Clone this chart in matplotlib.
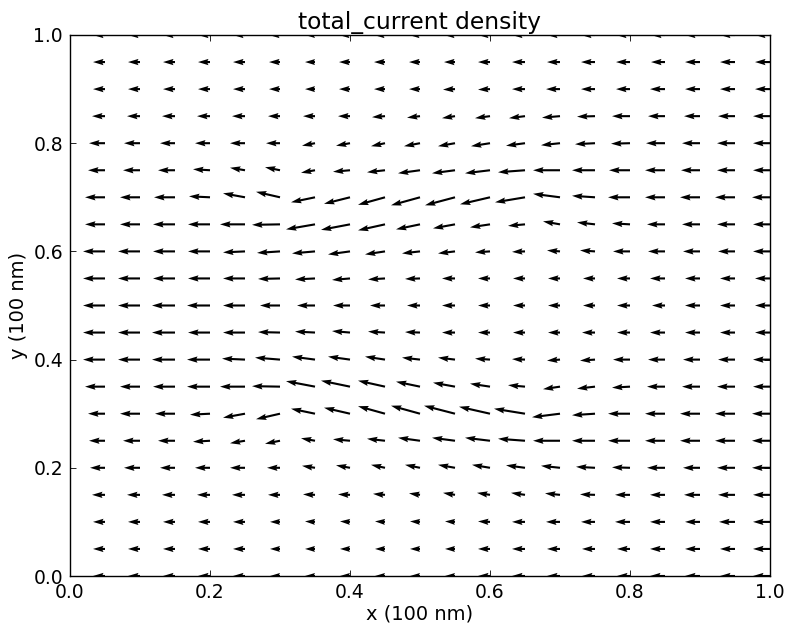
import numpy as np
import matplotlib
matplotlib.use("Agg")
import matplotlib.pyplot as plt

# grid of sample points (100 nm units)
x_pts = [0.0, 0.05, 0.1, 0.15, 0.2, 0.25, 0.3, 0.35, 0.4, 0.45, 0.5,
         0.55, 0.6, 0.65, 0.7, 0.75, 0.8, 0.85, 0.9, 0.95, 1.0]
y_pts = [0.0, 0.05, 0.1, 0.15, 0.2, 0.25, 0.3, 0.35, 0.4, 0.45, 0.5,
         0.55, 0.6, 0.65, 0.7, 0.75, 0.8, 0.85, 0.9, 0.95, 1.0]

# current density components, one row per y value (bottom -> top)
U = [
    [-1.2, -1.2, -1.2, -1.2, -1.2, -1.2, -1.0, -1.0, -1.0, -1.0, -1.0, -1.0, -1.2, -1.3, -1.3, -1.3, -1.3, -1.5, -1.5, -1.5, -1.7],  # 0.00
    [-1.2, -1.2, -1.2, -1.2, -1.2, -1.2, -1.0, -1.0, -1.0, -1.0, -1.0, -1.0, -1.2, -1.3, -1.3, -1.3, -1.3, -1.5, -1.5, -1.5, -1.7],  # 0.05
    [-1.2, -1.2, -1.2, -1.2, -1.2, -1.2, -1.0, -1.0, -1.0, -1.0, -1.0, -1.0, -1.2, -1.3, -1.4, -1.4, -1.5, -1.5, -1.5, -1.6, -1.7],  # 0.10
    [-1.3, -1.3, -1.3, -1.3, -1.3, -1.3, -1.2, -1.2, -1.2, -1.2, -1.1, -1.2, -1.3, -1.4, -1.5, -1.5, -1.5, -1.5, -1.6, -1.7, -1.7],  # 0.15
    [-1.5, -1.5, -1.6, -1.5, -1.5, -1.5, -1.3, -1.3, -1.4, -1.4, -1.5, -1.7, -1.8, -1.9, -1.9, -1.9, -1.8, -1.8, -1.7, -1.8, -1.8],  # 0.20
    [-1.6, -1.6, -1.7, -1.7, -1.7, -1.5, -1.5, -1.4, -1.7, -1.8, -2.2, -2.3, -2.5, -2.7, -2.7, -2.3, -2.2, -2.0, -2.0, -2.0, -1.8],  # 0.25
    [-1.7, -1.7, -2.0, -2.0, -2.0, -2.2, -2.4, -2.4, -2.6, -2.7, -2.9, -3.1, -3.1, -3.1, -2.8, -2.3, -2.2, -2.0, -2.0, -2.0, -1.8],  # 0.30
    [-2.0, -2.0, -2.0, -2.2, -2.3, -2.5, -2.8, -2.9, -2.9, -2.7, -2.4, -2.2, -2.0, -1.7, -1.7, -1.8, -1.8, -1.8, -1.8, -1.8, -1.7],  # 0.35
    [-2.2, -2.2, -2.2, -2.3, -2.3, -2.3, -2.5, -2.3, -2.2, -2.0, -1.8, -1.7, -1.5, -1.3, -1.3, -1.5, -1.7, -1.7, -1.7, -1.7, -1.7],  # 0.40
    [-2.2, -2.2, -2.2, -2.3, -2.2, -2.2, -2.2, -2.0, -1.8, -1.7, -1.5, -1.3, -1.2, -1.2, -1.2, -1.3, -1.3, -1.5, -1.5, -1.5, -1.5],  # 0.45
    [-2.2, -2.2, -2.2, -2.3, -2.3, -2.2, -2.0, -1.8, -1.7, -1.5, -1.3, -1.3, -1.2, -1.2, -1.2, -1.2, -1.3, -1.3, -1.5, -1.5, -1.5],  # 0.50
    [-2.2, -2.2, -2.2, -2.2, -2.2, -2.2, -2.2, -2.0, -1.8, -1.7, -1.5, -1.3, -1.2, -1.2, -1.2, -1.2, -1.3, -1.5, -1.5, -1.5, -1.5],  # 0.55
    [-2.2, -2.2, -2.2, -2.2, -2.2, -2.2, -2.3, -2.3, -2.2, -2.0, -1.8, -1.7, -1.5, -1.3, -1.3, -1.5, -1.7, -1.7, -1.7, -1.7, -1.7],  # 0.60
    [-2.0, -2.0, -2.0, -2.2, -2.2, -2.5, -2.8, -2.9, -2.9, -2.7, -2.4, -2.2, -2.0, -1.7, -1.7, -1.8, -1.8, -1.8, -1.8, -1.8, -1.7],  # 0.65
    [-2.0, -2.0, -2.0, -2.1, -2.1, -2.2, -2.4, -2.4, -2.6, -2.7, -2.9, -3.0, -3.0, -3.0, -2.7, -2.3, -2.2, -2.0, -2.0, -2.0, -1.8],  # 0.70
    [-1.7, -1.7, -1.7, -1.7, -1.7, -1.5, -1.5, -1.4, -1.7, -1.8, -2.2, -2.3, -2.5, -2.7, -2.7, -2.3, -2.1, -2.0, -1.9, -1.8, -1.7],  # 0.75
    [-1.6, -1.6, -1.6, -1.5, -1.5, -1.5, -1.4, -1.3, -1.4, -1.4, -1.6, -1.7, -1.9, -1.9, -1.9, -2.0, -1.9, -1.9, -1.8, -1.8, -1.7],  # 0.80
    [-1.3, -1.3, -1.3, -1.3, -1.3, -1.3, -1.2, -1.2, -1.2, -1.3, -1.3, -1.3, -1.5, -1.6, -1.8, -1.8, -1.8, -1.7, -1.6, -1.7, -1.7],  # 0.85
    [-1.2, -1.2, -1.2, -1.2, -1.2, -1.2, -1.1, -1.0, -1.1, -1.1, -1.1, -1.2, -1.2, -1.3, -1.4, -1.4, -1.4, -1.5, -1.5, -1.5, -1.5],  # 0.90
    [-1.2, -1.2, -1.2, -1.2, -1.2, -1.2, -1.1, -1.0, -1.1, -1.1, -1.1, -1.1, -1.2, -1.3, -1.3, -1.4, -1.4, -1.4, -1.5, -1.5, -1.5],  # 0.95
    [-1.2, -1.2, -1.2, -1.2, -1.2, -1.2, -1.1, -1.0, -1.1, -1.1, -1.1, -1.1, -1.2, -1.3, -1.3, -1.4, -1.4, -1.4, -1.5, -1.5, -1.5],  # 1.00
]
V = [
    [0.0, 0.0, 0.0, 0.0, 0.0, 0.0, 0.0, 0.0, 0.0, 0.0, 0.0, 0.0, 0.0, 0.0, 0.0, 0.0, 0.0, 0.0, 0.0, 0.0, 0.0],  # 0.00
    [0.0, 0.0, 0.0, 0.0, 0.0, 0.0, 0.0, 0.0, 0.0, 0.0, 0.0, 0.0, 0.0, 0.0, 0.0, 0.0, 0.0, 0.0, 0.0, 0.0, 0.0],  # 0.05
    [0.0, 0.0, 0.0, 0.0, 0.0, 0.0, 0.0, 0.05, 0.05, 0.05, 0.05, 0.05, 0.05, 0.0, 0.0, 0.0, 0.0, 0.0, 0.0, 0.0, 0.0],  # 0.10
    [0.0, 0.0, 0.0, 0.0, 0.0, 0.0, 0.0, 0.05, 0.05, 0.1, 0.15, 0.2, 0.2, 0.2, 0.15, 0.05, 0.0, 0.0, 0.0, 0.0, 0.0],  # 0.15
    [0.0, 0.0, 0.0, 0.0, 0.0, 0.0, 0.0, 0.2, 0.25, 0.3, 0.3, 0.3, 0.3, 0.25, 0.2, 0.1, 0.05, 0.0, 0.0, 0.0, 0.0],  # 0.20
    [0.0, 0.0, 0.0, 0.0, -0.1, -0.25, -0.3, 0.25, 0.15, 0.2, 0.3, 0.3, 0.3, 0.2, 0.0, 0.0, 0.0, 0.0, 0.0, 0.0, 0.0],  # 0.25
    [0.0, 0.0, 0.0, 0.0, -0.1, -0.4, -0.55, 0.5, 0.6, 0.75, 0.8, 0.8, 0.7, 0.5, -0.35, -0.15, 0.0, 0.0, 0.0, 0.0, 0.0],  # 0.30
    [0.0, 0.0, 0.0, 0.0, 0.0, 0.0, 0.05, 0.55, 0.6, 0.6, 0.5, 0.4, 0.3, 0.15, -0.25, -0.2, -0.1, 0.0, 0.0, 0.0, 0.0],  # 0.35
    [0.0, 0.0, 0.0, 0.0, 0.0, 0.1, 0.2, 0.3, 0.3, 0.3, 0.2, 0.2, 0.1, 0.05, -0.1, -0.1, 0.0, 0.0, 0.0, 0.0, 0.0],  # 0.40
    [0.0, 0.0, 0.0, 0.0, 0.0, 0.0, 0.05, 0.1, 0.15, 0.1, 0.05, 0.0, 0.0, 0.0, 0.0, 0.0, 0.0, 0.0, 0.0, 0.0, 0.0],  # 0.45
    [0.0, 0.0, 0.0, 0.0, 0.0, 0.0, 0.0, 0.0, 0.0, 0.0, 0.0, 0.0, 0.0, 0.0, 0.0, 0.0, 0.0, 0.0, 0.0, 0.0, 0.0],  # 0.50
    [0.0, 0.0, 0.0, 0.0, 0.0, 0.0, -0.05, -0.1, -0.15, -0.1, -0.05, 0.0, 0.0, 0.0, 0.0, 0.0, 0.0, 0.0, 0.0, 0.0, 0.0],  # 0.55
    [0.0, 0.0, 0.0, 0.0, 0.0, -0.1, -0.15, -0.2, -0.3, -0.3, -0.2, -0.2, -0.1, -0.05, 0.1, 0.1, 0.0, 0.0, 0.0, 0.0, 0.0],  # 0.60
    [0.0, 0.0, 0.0, 0.0, 0.0, 0.0, -0.05, -0.5, -0.55, -0.6, -0.5, -0.4, -0.3, -0.15, 0.3, 0.2, 0.1, 0.0, 0.0, 0.0, 0.0],  # 0.65
    [0.0, 0.0, 0.0, 0.0, 0.1, 0.4, 0.55, -0.5, -0.65, -0.75, -0.8, -0.8, -0.7, -0.5, 0.35, 0.15, 0.0, 0.0, 0.0, 0.0, 0.0],  # 0.70
    [0.0, 0.0, 0.0, 0.0, 0.1, 0.25, 0.3, -0.25, -0.15, -0.2, -0.3, -0.3, -0.3, -0.2, 0.0, 0.0, 0.0, 0.0, 0.0, 0.0, 0.0],  # 0.75
    [0.0, 0.0, 0.0, 0.0, 0.0, 0.0, 0.0, -0.25, -0.25, -0.3, -0.3, -0.3, -0.3, -0.25, -0.2, -0.1, -0.05, 0.0, 0.0, 0.0, 0.0],  # 0.80
    [0.0, 0.0, 0.0, 0.0, 0.0, 0.0, 0.0, 0.0, 0.0, -0.1, -0.15, -0.2, -0.2, -0.2, -0.15, -0.05, 0.0, 0.0, 0.0, 0.0, 0.0],  # 0.85
    [0.0, 0.0, 0.0, 0.0, 0.0, 0.0, 0.0, 0.0, 0.0, 0.0, 0.0, -0.05, -0.05, 0.0, 0.0, 0.0, 0.0, 0.0, 0.0, 0.0, 0.0],  # 0.90
    [0.0, 0.0, 0.0, 0.0, 0.0, 0.0, 0.0, 0.0, 0.0, 0.0, 0.0, 0.0, 0.0, 0.0, 0.0, 0.0, 0.0, 0.0, 0.0, 0.0, 0.0],  # 0.95
    [0.0, 0.0, 0.0, 0.0, 0.0, 0.0, 0.0, 0.0, 0.0, 0.0, 0.0, 0.0, 0.0, 0.0, 0.0, 0.0, 0.0, 0.0, 0.0, 0.0, 0.0],  # 1.00
]

X, Y = np.meshgrid(x_pts, y_pts)

fig = plt.figure(figsize=(7.86, 6.29), dpi=100)
ax = fig.add_axes([70/786, 1 - 576/629, 700/786, 541/629])

ax.quiver(X, Y, np.array(U), np.array(V), color="black",
          scale=70, scale_units="width", width=0.003,
          headwidth=3, headlength=5, headaxislength=4.5)

ax.set_xlim(0, 1)
ax.set_ylim(0, 1)
ax.set_xticks([0.0, 0.2, 0.4, 0.6, 0.8, 1.0])
ax.set_yticks([0.0, 0.2, 0.4, 0.6, 0.8, 1.0])
ax.tick_params(direction="in", top=True, right=True, length=4, width=0.6,
               labelsize=13.5, pad=5)
for s in ax.spines.values():
    s.set_linewidth(1.0)

ax.set_title("total_current density", fontsize=16.8, pad=4)
ax.set_xlabel("x (100 nm)", fontsize=14, labelpad=2)
ax.set_ylabel("y (100 nm)", fontsize=14, labelpad=4)

fig.savefig("out.png", dpi=100)
